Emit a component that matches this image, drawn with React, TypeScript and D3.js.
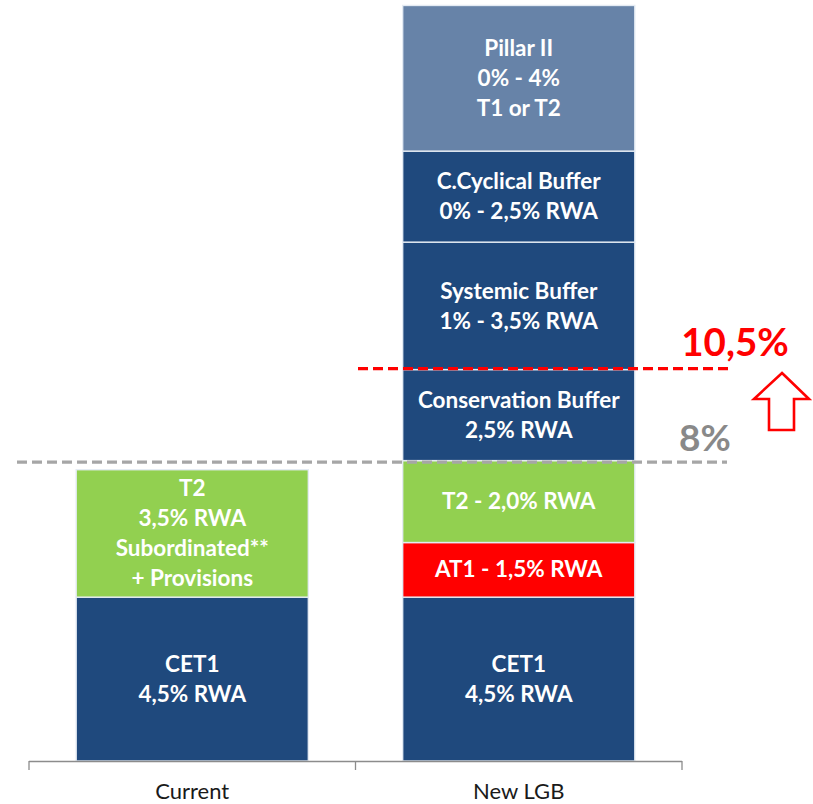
import React from "react";
import * as d3 from "d3";

const categories = ["Current", "New LGB"];

const currentValues = [4.5, 3.5];
const currentLabels = [
  ["CET1", "4,5% RWA"],
  ["T2", "3,5% RWA", "Subordinated**", "+ Provisions"],
];
const currentKinds = ["cet1", "t2"];

const newValues = [4.5, 1.5, 2.25, 2.5, 3.5, 2.5, 4.0];
const newLabels = [
  ["CET1", "4,5% RWA"],
  ["AT1 - 1,5% RWA"],
  ["T2 - 2,0% RWA"],
  ["Conservation Buffer", "2,5% RWA"],
  ["Systemic Buffer", "1% - 3,5% RWA"],
  ["C.Cyclical Buffer", "0% - 2,5% RWA"],
  ["Pillar II", "0% - 4%", "T1 or T2"],
];
const newKinds = ["cet1", "at1", "t2", "buffer", "buffer", "buffer", "pillar"];

const thresholdLabels = ["8%", "10,5%"];
// thresholds drawn at the top of these New LGB segment indices
const thresholdSegments = [2, 3];

const COLORS: Record<string, string> = {
  cet1: "#1F497D",
  at1: "#FF0000",
  t2: "#92D050",
  buffer: "#1F497D",
  pillar: "#6783A8",
};

const W = 813;
const H = 804;
const FONT = "Lato, Carlito, Calibri, sans-serif";

function stack(values: number[]) {
  let acc = 0;
  return values.map((v) => {
    const s = { y0: acc, y1: acc + v };
    acc += v;
    return s;
  });
}

export default function App() {
  const x = d3.scaleBand<string>().domain(categories).range([29, 682]).paddingInner(0).paddingOuter(0);
  const y = d3.scaleLinear().domain([0, 20.9]).range([761, 0]);
  const barW = x.bandwidth() * 0.711;

  const bars = [
    { cat: categories[0], values: currentValues, labels: currentLabels, kinds: currentKinds },
    { cat: categories[1], values: newValues, labels: newLabels, kinds: newKinds },
  ];

  const newStack = stack(newValues);
  const grayY = y(newStack[thresholdSegments[0]].y1);
  const redY = y(newStack[thresholdSegments[1]].y1);

  const fs = 22.5;
  const lh = 30;

  return (
    <svg
      width={W}
      height={H}
      viewBox={`0 0 ${W} ${H}`}
      style={{ position: "absolute", left: 0, top: 0, background: "#fff" }}
    >
      <rect x={0} y={0} width={W} height={H} fill="#fff" />
      {bars.map((b) => {
        const st = stack(b.values);
        const cx = (x(b.cat) as number) + x.bandwidth() / 2;
        const x0 = cx - barW / 2;
        return (
          <g key={b.cat}>
            {st.map((s, i) => {
              const top = y(s.y1);
              const bot = y(s.y0);
              const mid = (top + bot) / 2;
              const lines = b.labels[i];
              const startY = mid - ((lines.length - 1) * lh) / 2;
              return (
                <g key={i}>
                  <rect
                    x={x0}
                    y={top}
                    width={barW}
                    height={bot - top}
                    fill={COLORS[b.kinds[i]]}
                    stroke="#e4ebf3"
                    strokeWidth={1.4}
                  />
                  {lines.map((t, j) => (
                    <text
                      key={j}
                      x={cx}
                      y={startY + j * lh + fs * 0.34}
                      textAnchor="middle"
                      fill="#ffffff"
                      fontFamily={FONT}
                      fontWeight={700}
                      fontSize={fs}
                    >
                      {t}
                    </text>
                  ))}
                </g>
              );
            })}
          </g>
        );
      })}

      {/* axis */}
      <line x1={29} x2={682} y1={761.5} y2={761.5} stroke="#8c8c8c" strokeWidth={1.3} />
      {[...categories.map((c) => x(c) as number), 682].map((t, i) => (
        <line key={i} x1={t} x2={t} y1={761} y2={770} stroke="#8c8c8c" strokeWidth={1.3} />
      ))}
      {categories.map((c) => (
        <text
          key={c}
          x={(x(c) as number) + x.bandwidth() / 2}
          y={799}
          textAnchor="middle"
          fill="#1a1a1a"
          fontFamily={FONT}
          fontSize={22}
        >
          {c}
        </text>
      ))}

      {/* threshold lines */}
      <line
        x1={17}
        x2={727}
        y1={grayY + 1.5}
        y2={grayY + 1.5}
        stroke="#A6A6A6"
        strokeWidth={3.4}
        strokeDasharray="10,5"
      />
      <line
        x1={358}
        x2={731}
        y1={redY - 1}
        y2={redY - 1}
        stroke="#FF0000"
        strokeWidth={3.2}
        strokeDasharray="10,5"
      />
      <text x={705} y={451} textAnchor="middle" fill="#898989" fontFamily={FONT} fontWeight={700} fontSize={37}>
        {thresholdLabels[0]}
      </text>
      <text x={735} y={356} textAnchor="middle" fill="#FF0000" fontFamily={FONT} fontWeight={700} fontSize={38.5}>
        {thresholdLabels[1]}
      </text>

      {/* arrow */}
      <path
        d="M782,373 L809,399 L794,399 L794,430 L769,430 L769,399 L754,399 Z"
        fill="#fff"
        stroke="#FF0000"
        strokeWidth={2.6}
        strokeLinejoin="miter"
      />
    </svg>
  );
}
